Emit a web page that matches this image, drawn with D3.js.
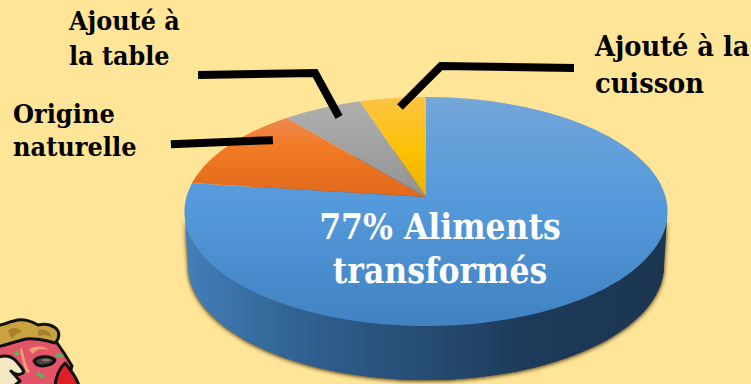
<!DOCTYPE html>
<html><head><meta charset="utf-8">
<script src="https://cdn.jsdelivr.net/npm/d3@7"></script>
<style>
html,body{margin:0;padding:0;background:#ffe598;overflow:hidden}
text{font-family:"DejaVu Serif",serif;font-stretch:condensed;font-weight:700}
</style></head><body><svg id="c" width="751" height="384"></svg>
<script>
// Origin of dietary salt
const categories = ["Aliments transformés", "Origine naturelle", "Ajouté à la table", "Ajouté à la cuisson"];
const shares = [77, 12, 6, 5];
const mainLabel = ["77% Aliments", "transformés"];
const tableLabel = ["Ajouté à", "la table"];
const naturalLabel = ["Origine", "naturelle"];
const cookingLabel = ["Ajouté à la", "cuisson"];

const svg = d3.select("#c");
const defs = svg.append("defs");

// Perspective projection of the unit disc on to the page
const cx = 426, apexY = 197, persp = -0.1266, yScale = 87.72, xScale = 239.6, depth = 54;
const project = (a, r, shrink = 1, dy = 0) => {
  const X = r * Math.sin(a), Y = -r * Math.cos(a), w = 1 + persp * Y;
  return [cx + shrink * xScale * X / w, (yScale * Y + apexY) / w + dy];
};

// Slices run clockwise, the largest one ending at twelve o'clock
const pie = d3.pie().value(d => d).sort(null).startAngle(0).endAngle(2 * Math.PI);
const arcs = pie(shares);
const line = d3.line();
const sample = (a0, a1, f) => d3.range(0, 1.0001, 1 / 180).map(t => f(a0 + (a1 - a0) * t));

function vGradient(id, stops, y1, y2) {
  const g = defs.append("linearGradient").attr("id", id)
    .attr("gradientUnits", "userSpaceOnUse")
    .attr("x1", 0).attr("x2", 0).attr("y1", y1).attr("y2", y2);
  stops.forEach(([o, c]) => g.append("stop").attr("offset", o).attr("stop-color", c));
}
vGradient("g0", [[0, "#76a7d8"], [.12, "#6aa2da"], [.48, "#5499da"], [1, "#4082c2"]], 97, 326);
vGradient("g1", [[0, "#ec8a58"], [.4, "#f27b26"], [1, "#e0691c"]], 112, 197);
vGradient("g2", [[0, "#b0b0b0"], [1, "#929292"]], 100, 197);
vGradient("g3", [[0, "#fcc444"], [.55, "#fdc103"], [1, "#e6b200"]], 97, 197);
const wall = defs.append("linearGradient").attr("id", "wall")
  .attr("gradientUnits", "userSpaceOnUse").attr("x1", 184).attr("x2", 667).attr("y1", 0).attr("y2", 0);
[[0, "#437fb8"], [.25, "#2f6090"], [.5, "#264c72"], [.72, "#1d3a59"], [1, "#1c3650"]]
  .forEach(([o, c]) => wall.append("stop").attr("offset", o).attr("stop-color", c));
defs.append("filter").attr("id", "soft").attr("x", "-10%").attr("y", "-10%").attr("width", "120%").attr("height", "120%")
  .append("feGaussianBlur").attr("stdDeviation", 2);

// Rim: top outline joined to the lower outline
const fullCircle = [0, 2 * Math.PI];
const lower = sample(...fullCircle, a => project(a, 1, .985, depth));
const upper = sample(...fullCircle, a => project(a, 1));
const rim = line(lower) + "Z";
const rimBand = line([...upper.filter(p => p[1] > 212).sort((p, q) => p[0] - q[0]),
                      ...lower.filter(p => p[1] > 262).sort((p, q) => q[0] - p[0])]) + "Z";
const shade = svg.append("g").attr("filter", "url(#soft)").attr("transform", "translate(0,1)");
shade.append("path").attr("d", rim).attr("fill", "#3d2c0c");
shade.append("path").attr("d", rimBand).attr("fill", "#3d2c0c");
svg.append("path").attr("d", rim).attr("fill", "url(#wall)");
svg.append("path").attr("d", rimBand).attr("fill", "url(#wall)");

// Top face
svg.selectAll("path.slice").data(arcs).join("path").attr("class", "slice")
  .attr("fill", (d, i) => `url(#g${i})`)
  .attr("d", d => line([[cx, apexY], ...sample(d.startAngle, d.endAngle, a => project(a, 1))]) + "Z");

// Leader lines start inside their slice, then step out to the label
const leaders = [
  { slice: 1, t: .72, r: .87, steps: [[-102, 4]] },
  { slice: 2, t: .58, r: .876, steps: [[-24, -44], [-117, 2]] },
  { slice: 3, t: .57, r: .897, steps: [[41, -41], [133, 2]] }
];
svg.selectAll("path.leader").data(leaders).join("path").attr("class", "leader")
  .attr("fill", "none").attr("stroke", "#000").attr("stroke-width", 8).attr("stroke-linejoin", "miter")
  .attr("d", d => {
    const s = arcs[d.slice];
    let p = project(s.startAngle + (s.endAngle - s.startAngle) * d.t, d.r);
    const pts = [p];
    d.steps.forEach(([dx, dy]) => { p = [p[0] + dx, p[1] + dy]; pts.push(p); });
    return line(pts);
  });

// Labels
function block(lines, x, ys, size, fill, anchor) {
  svg.selectAll(null).data(lines).join("text")
    .attr("x", x).attr("y", (d, i) => ys[i]).attr("font-size", size)
    .attr("fill", fill).attr("text-anchor", anchor).text(d => d);
}
block(tableLabel, 69, [30, 65], 26.6, "#000", "start");
block(naturalLabel, 13, [123, 156], 26.8, "#000", "start");
block(cookingLabel, 595, [56, 93], 28.6, "#000", "start");
block(mainLabel, 440, [239, 283], 35, "#fff", "middle");

// Pizza mascot peeking in from the corner
const mascot = svg.append("g");
const stroke = { stroke: "#111", "stroke-width": 3, "stroke-linejoin": "round" };
const paint = (d, fill, st) => {
  const p = mascot.append("path").attr("d", d).attr("fill", fill);
  if (st) Object.entries(stroke).forEach(([k, v]) => p.attr(k, v));
};
paint("M-3 325L55 340L64 353L72 366L66 386H-3Z", "#e45468", true);
paint("M-3 325C4 326 9 321 14 321C22 318 32 321 38 325C46 323 54 325 58 331C60 336 58 340 55 343C46 340 30 337 22 340C14 342 6 345 -3 347Z", "#c9a33f", true);
paint("M8 331C12 327 18 327 22 332C18 333 14 335 12 339ZM38 330C44 328 50 331 52 337C46 335 42 335 38 336Z", "#a8812c", false);
paint("M-3 358C4 354 12 356 17 362C21 367 25 371 23 373C18 376 14 374 11 371L20 381L14 386H-3Z", "#f5e7c2", true);
paint("M34 361C37 356 50 355 55 360C54 365 40 368 36 364Z", "#47423a", true);
paint("M41 360C44 358 49 358 51 360C48 362 44 362 41 360Z", "#7d7868", false);
paint("M55 386C56 375 60 368 65 363C70 369 77 378 79 386Z", "#dd2028", true);
paint("M29 350C34 345 46 346 48 350C42 348 36 349 33 354Z", "#f0a070", false);
paint("M22 348C24 356 26 366 30 372L27 373C23 366 21 356 20 349Z", "#f0a070", false);
paint("M56 353L64 355L62 358L55 356Z", "#58b45a", false);
paint("M38 371L45 376L43 379L36 374Z", "#58b45a", false);
paint("M14 352L18 350L19 355L16 356Z", "#58b45a", false);
</script></body></html>
